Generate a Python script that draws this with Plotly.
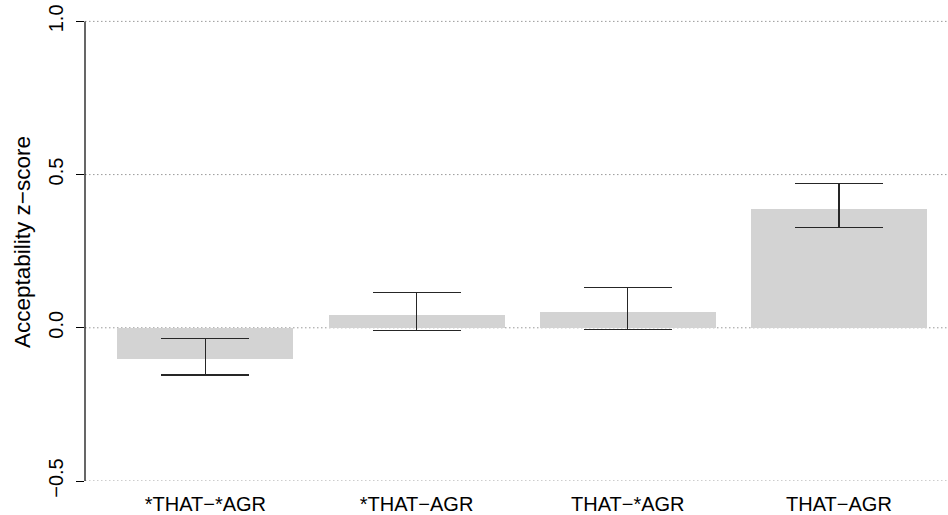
import plotly.graph_objects as go

# Condition labels and acceptability scores (mean z-score with interval bounds)
categories = ["*THAT\u2212*AGR", "*THAT\u2212AGR", "THAT\u2212*AGR", "THAT\u2212AGR"]
means = [-0.103, 0.043, 0.053, 0.389]
lower = [-0.154, -0.008, -0.006, 0.328]
upper = [-0.035, 0.115, 0.132, 0.470]
y_ticks = [-0.5, 0.0, 0.5, 1.0]
y_tick_text = ["\u22120.5", "0.0", "0.5", "1.0"]

# barplot-style positions: unit width, 0.2 spacing
bar_width = 1.0
gap = 0.2
x_pos = [gap + i * (bar_width + gap) + bar_width / 2 for i in range(len(categories))]

err_plus = [u - m for u, m in zip(upper, means)]
err_minus = [m - l for m, l in zip(means, lower)]

FONT = "Liberation Sans, Arial, Helvetica, sans-serif"

fig = go.Figure()
fig.add_trace(go.Bar(
    x=x_pos,
    y=means,
    width=bar_width,
    marker=dict(color="#D3D3D3", line=dict(width=0)),
    error_y=dict(
        type="data",
        symmetric=False,
        array=err_plus,
        arrayminus=err_minus,
        color="#262626",
        thickness=1.2,
        width=44,
    ),
    showlegend=False,
))

# dotted horizontal reference lines at each y tick
for v in y_ticks:
    fig.add_shape(
        type="line", xref="paper", yref="y",
        x0=0, x1=1, y0=v, y1=v,
        line=dict(color="#9a9a9a", width=1, dash="1.5px,2.5px"),
        layer="below",
    )

# left axis line spanning the tick range only
fig.add_shape(
    type="line", xref="paper", yref="y",
    x0=0, x1=0, y0=min(y_ticks), y1=max(y_ticks),
    line=dict(color="black", width=1.2),
)

x_left = 0.016
x_right = x_left + 863 / 176.0

fig.update_layout(
    width=948,
    height=515,
    margin=dict(l=85, r=0, t=3, b=34),
    paper_bgcolor="white",
    plot_bgcolor="white",
    font=dict(family=FONT, size=20, color="black"),
    bargap=0,
    xaxis=dict(
        range=[x_left, x_right],
        tickmode="array",
        tickvals=x_pos,
        ticktext=categories,
        showgrid=False,
        zeroline=False,
        showline=False,
        ticks="",
        ticklabelstandoff=9,
        tickfont=dict(family=FONT, size=20, color="black"),
    ),
    yaxis=dict(
        range=[-0.5, 1.06],
        tickmode="array",
        tickvals=y_ticks,
        ticktext=y_tick_text,
        tickangle=-90,
        showgrid=False,
        zeroline=False,
        showline=False,
        ticks="outside",
        ticklen=8,
        tickwidth=1.2,
        tickcolor="black",
        ticklabelstandoff=5,
        tickfont=dict(family=FONT, size=20, color="black"),
        title=dict(text="Acceptability z\u2212score", font=dict(family=FONT, size=22.5, color="black"), standoff=8),
    ),
)

fig.write_html("out.html")
